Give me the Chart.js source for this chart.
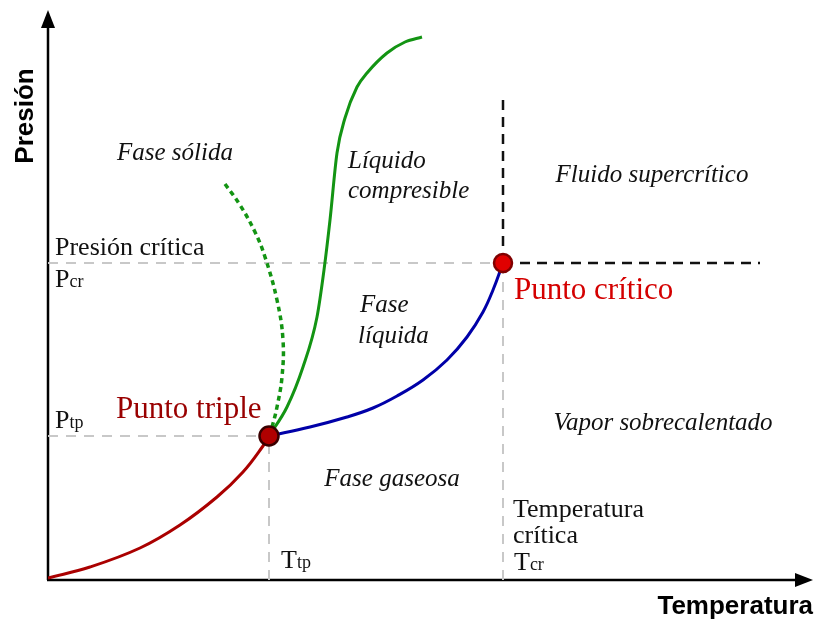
<!DOCTYPE html>
<html>
<head>
<meta charset="utf-8">
<script src="https://cdn.jsdelivr.net/npm/chart.js@4.4.0/dist/chart.umd.min.js"></script>
<style>
  html, body { margin: 0; padding: 0; background: #fff; overflow: hidden; }
  canvas { display: block; }
</style>
</head>
<body>
<canvas id="phaseChart" width="815" height="620"></canvas>
<script>
// temperature (x) and pressure (y), arbitrary units
const sublimT = [0, 42, 92, 132, 169, 195, 215, 221];
const sublimP = [2, 13, 32, 55, 83, 108, 134, 144];
const vaporT = [221, 262, 299, 325, 349, 375, 399, 419, 435, 445, 455];
const vaporP = [144, 153, 163, 172, 184, 200, 220, 243, 268, 290, 317];
const fusionT = [221, 239, 255, 269, 276, 282, 289, 297, 309, 319, 339, 357, 374];
const fusionP = [144, 173, 213, 263, 310, 360, 427, 462, 493, 507, 527, 538, 543];
const waterFusionT = [177, 192, 207, 217, 229, 235, 234, 229, 224, 221];
const waterFusionP = [396, 375, 348, 323, 280, 240, 203, 173, 153, 144];

const tripleT = 221, tripleP = 144;
const criticalT = 455, criticalP = 317;
const supercritTopP = 480, supercritRightT = 712;
const tMax = 765, pMax = 570;

// axis "tick" labels
const pTickValues = [criticalP, tripleP];
const pTickNames = [['P', 'cr'], ['P', 'tp']];
const tTickValues = [tripleT, criticalT];
const tTickNames = [['T', 'tp'], ['T', 'cr']];

const zip = (xs, ys) => xs.map((x, i) => ({ x: x, y: ys[i] }));

const serif = '"Liberation Serif", "Times New Roman", serif';
const sans = '"Liberation Sans", Arial, sans-serif';

// text placed in data coordinates
const labels = [
  { text: 'Fase sólida', T: 127, P: 420, align: 'center', font: 'italic 25px ' + serif, color: '#111' },
  { text: 'Líquido', T: 300, P: 412, align: 'left', font: 'italic 25px ' + serif, color: '#111' },
  { text: 'compresible', T: 300, P: 382, align: 'left', font: 'italic 25px ' + serif, color: '#111' },
  { text: 'Fluido supercrítico', T: 604, P: 398, align: 'center', font: 'italic 25px ' + serif, color: '#111' },
  { text: 'Fase', T: 312, P: 268, align: 'left', font: 'italic 25px ' + serif, color: '#111' },
  { text: 'líquida', T: 310, P: 237, align: 'left', font: 'italic 25px ' + serif, color: '#111' },
  { text: 'Vapor sobrecalentado', T: 615, P: 150, align: 'center', font: 'italic 25px ' + serif, color: '#111' },
  { text: 'Fase gaseosa', T: 344, P: 94, align: 'center', font: 'italic 25px ' + serif, color: '#111' },
  { text: 'Presión crítica', T: 7, P: 325, align: 'left', font: '26px ' + serif, color: '#111' },
  { text: 'Punto triple', T: 68, P: 162, align: 'left', font: '31px ' + serif, color: '#990000' },
  { text: 'Punto crítico', T: 466, P: 281, align: 'left', font: '31px ' + serif, color: '#d40000' },
  { text: 'Temperatura', T: 465, P: 63, align: 'left', font: '26px ' + serif, color: '#111' },
  { text: 'crítica', T: 465, P: 37, align: 'left', font: '26px ' + serif, color: '#111' }
];
// pixel offsets of the tick names from their line
const pTickOffsets = [[7, 24], [7, -8]];
const tTickOffsets = [[12, -12], [11, -10]];

function drawSub(ctx, parts, x, y) {
  ctx.textAlign = 'left';
  ctx.textBaseline = 'alphabetic';
  ctx.font = '26px ' + serif;
  ctx.fillText(parts[0], x, y);
  const w = ctx.measureText(parts[0]).width;
  ctx.font = '18px ' + serif;
  ctx.fillText(parts[1], x + w, y);
}

const diagramPlugin = {
  id: 'diagram',
  beforeDatasetsDraw(chart) {
    const ctx = chart.ctx;
    const a = chart.chartArea;
    ctx.save();
    ctx.strokeStyle = '#000';
    ctx.fillStyle = '#000';
    ctx.lineWidth = 2.5;
    ctx.beginPath();
    ctx.moveTo(a.left, a.bottom);
    ctx.lineTo(a.left, a.top + 12);
    ctx.moveTo(a.left - 1, a.bottom);
    ctx.lineTo(a.right - 12, a.bottom);
    ctx.stroke();
    // arrow heads
    ctx.beginPath();
    ctx.moveTo(a.left, a.top);
    ctx.lineTo(a.left - 7, a.top + 18);
    ctx.lineTo(a.left + 7, a.top + 18);
    ctx.closePath();
    ctx.fill();
    ctx.beginPath();
    ctx.moveTo(a.right, a.bottom);
    ctx.lineTo(a.right - 18, a.bottom - 7);
    ctx.lineTo(a.right - 18, a.bottom + 7);
    ctx.closePath();
    ctx.fill();
    ctx.restore();
  },
  afterDraw(chart) {
    const ctx = chart.ctx;
    const xs = chart.scales.x, ys = chart.scales.y;
    const a = chart.chartArea;
    ctx.save();
    labels.forEach(l => {
      ctx.font = l.font;
      ctx.fillStyle = l.color;
      ctx.textAlign = l.align;
      ctx.textBaseline = 'alphabetic';
      ctx.fillText(l.text, xs.getPixelForValue(l.T), ys.getPixelForValue(l.P));
    });
    ctx.fillStyle = '#111';
    pTickValues.forEach((v, i) => {
      drawSub(ctx, pTickNames[i], a.left + pTickOffsets[i][0], ys.getPixelForValue(v) + pTickOffsets[i][1]);
    });
    tTickValues.forEach((v, i) => {
      drawSub(ctx, tTickNames[i], xs.getPixelForValue(v) + tTickOffsets[i][0], a.bottom + tTickOffsets[i][1]);
    });
    // axis titles
    ctx.fillStyle = '#000';
    ctx.font = 'bold 26px ' + sans;
    ctx.textAlign = 'right';
    ctx.fillText('Temperatura', a.right, a.bottom + 34);
    ctx.translate(33, 116);
    ctx.rotate(-Math.PI / 2);
    ctx.textAlign = 'center';
    ctx.fillText('Presión', 0, 0);
    ctx.restore();
  }
};

const curve = (data, color) => ({
  data: data, showLine: true, borderColor: color, borderWidth: 3,
  pointRadius: 0, tension: 0.4, fill: false
});
const guide = (data, color, width, dash) => ({
  data: data, showLine: true, borderColor: color, borderWidth: width,
  borderDash: dash, pointRadius: 0, tension: 0, fill: false
});

new Chart(document.getElementById('phaseChart'), {
  type: 'scatter',
  data: {
    datasets: [
      {
        label: 'Punto triple',
        data: [{ x: tripleT, y: tripleP }],
        pointRadius: 9.5, pointBackgroundColor: '#b00000', pointBorderColor: '#3a0000', pointBorderWidth: 2.5
      },
      {
        label: 'Punto crítico',
        data: [{ x: criticalT, y: criticalP }],
        pointRadius: 9, pointBackgroundColor: '#e00000', pointBorderColor: '#800000', pointBorderWidth: 2.5
      },
      curve(zip(sublimT, sublimP), '#aa0000'),
      curve(zip(vaporT, vaporP), '#0000a8'),
      Object.assign(curve(zip(fusionT, fusionP), '#139413'), { cubicInterpolationMode: 'monotone' }),
      Object.assign(curve(zip(waterFusionT, waterFusionP), '#139413'), { borderDash: [5, 4], borderWidth: 3.5 }),
      guide([{ x: criticalT, y: criticalP }, { x: criticalT, y: supercritTopP }], '#111', 2.5, [10, 7]),
      guide([{ x: criticalT, y: criticalP }, { x: supercritRightT, y: criticalP }], '#111', 2.5, [10, 7]),
      guide([{ x: 0, y: criticalP }, { x: criticalT, y: criticalP }], '#c8c8c8', 2, [10, 8]),
      guide([{ x: 0, y: tripleP }, { x: tripleT, y: tripleP }], '#c8c8c8', 2, [10, 8]),
      guide([{ x: tripleT, y: 0 }, { x: tripleT, y: tripleP }], '#c8c8c8', 2, [10, 8]),
      guide([{ x: criticalT, y: 0 }, { x: criticalT, y: criticalP }], '#c8c8c8', 2, [10, 8])
    ]
  },
  options: {
    responsive: false,
    animation: false,
    layout: { autoPadding: false, padding: { left: 48, right: 2, top: 10, bottom: 40 } },
    scales: {
      x: { type: 'linear', min: 0, max: tMax, display: false },
      y: { type: 'linear', min: 0, max: pMax, display: false }
    },
    plugins: {
      legend: { display: false },
      tooltip: { enabled: false }
    }
  },
  plugins: [diagramPlugin]
});
</script>
</body>
</html>
